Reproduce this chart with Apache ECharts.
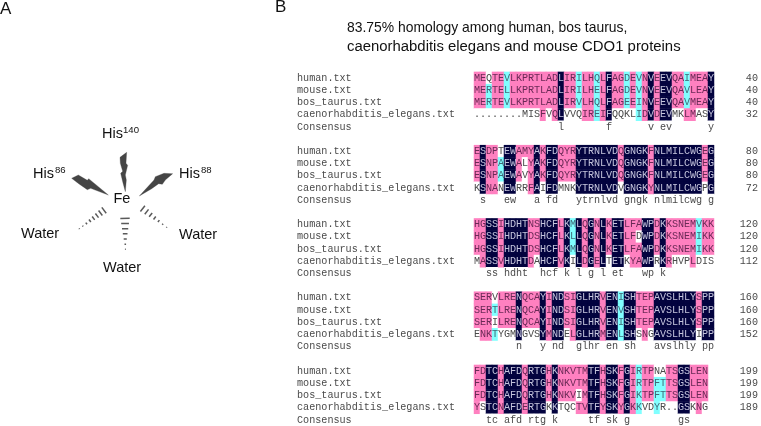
<!DOCTYPE html>
<html><head><meta charset="utf-8">
<style>html,body{margin:0;padding:0;background:#fff}#c{width:761px;height:426px}</style>
<script src="https://cdn.jsdelivr.net/npm/echarts@6/dist/echarts.min.js"></script>
</head><body><div id="c"></div>
<script>
const seqNames = ['human.txt','mouse.txt','bos_taurus.txt','caenorhabditis_elegans.txt','Consensus'];
const human = ['MEQTEVLKPRTLADLIRILHQLFAGDEVNVEEVQAIMEAY','ESDPTEWAMYAKFDQYRYTRNLVDQGNGKFNLMILCWGEG','HGSSIHDHTNSHCFLKMLQGNLKETLFAWPDKKSNEMVKK','SERVLRENQCAYINDSIGLHRVENISHTEPAVSLHLYSPP','FDTCHAFDQRTGHKNKVTMTFHSKFGIRTPNATSGSLEN'];
const mouse = ['MERTELLKPRTLADLIRILHELFAGDEVNVEEVQAVLEAY','ESNPAEWALYAKFDQYRYTRNLVDQGNGKFNLMILCWGEG','HGSSIHDHTDSHCFLKLLQGNLKETLFDWPDKKSNEMIKK','SERTLRENQCAYINDSIGLHRVENVSHTEPAVSLHLYSPP','FDTCHAFDQRTGHKNKVTMTFHSKFGIRTPFTTSGSLEN'];
const bos = ['MERTEVLKPRTLADLIRVLHQLFAGEEINVEEVQAVMEAY','ESNPAEWAVYAKFDQYRYTRNLVDQGNGKFNLMILCWGEG','HGSSIHDHTDSHCFLKMLQGNLKETLFAWPDKKSNEMIKK','SERILRENQCAYINDSIGLHRVENISHTEPAVSLHLYSPP','FDTCHAFDQRTGHKNKVIMTFHSKFGIKTPFTTSGSLEN'];
const elegans = ['........MISFVQLVVQIREIFQQKLIDVDEVMKLMASY','KSNANEWRRFAIFDMNKYTRNLVDVGNGKYNLMILCWGPG','MASSVHDHTDAHCFVKILDGELTETKYAWPRKRHVPLDIS','ENKTYGMNGVSYMNDELGLHRMENLSHSNGAVSLHLYIPP','YSTCNAFDERTGKKTQCTVTFYSKYGKKVDYR..GSKNG'];
const consensus = ['              l       f      v ev      y',' s   ew   a fd   ytrnlvd gngk nlmilcwg g','  ss hdht  hcf k l g l et   wp k','       n   y nd  glhr en sh   avslhly pp','  tc afd rtg k     tf sk g        gs'];
const humanEnds = [40,80,120,160,199];
const mouseEnds = [40,80,120,160,199];
const bosEnds = [40,80,120,160,199];
const elegansEnds = [32,72,112,152,189];
/* conservation class per residue: n identical, p high, c similar, w none */
const humanShade = ['ppwppcppppppppnppcppcpnppcpcpnpnnppcpppn','pnppwnnpppnpnnpppnnnnnnnpnnnnpnnnnnnnnpn','ppnnpnnnnppnnnpncnpnpnpnnpppnnpnpppppcpp','pppwpppnpppnpnnppnnnnpnncnnpppnnnnnnnpnn','ppnnpnnnpnnnpnpppppnnpnnpnpcppwwppnnppp'];
const mouseShade = ['ppcppcppppppppnppcppcpnppcpcpnpnnppcpppn','pnppcnnpwpnpnnpppnnnnnnnpnnnnpnnnnnnnnpn','ppnnpnnnnppnnnpncnpnpnpnnppwnnpnpppppcpp','pppcpppnpppnpnnppnnnnpnncnnpppnnnnnnnpnn','ppnnpnnnpnnnpnpppppnnpnnpnpcppccppnnppp'];
const bosShade = ['ppcppcppppppppnppcppcpnppcpcpnpnnppcpppn','pnppcnnpwpnpnnpppnnnnnnnpnnnnpnnnnnnnnpn','ppnnpnnnnppnnnpncnpnpnpnnpppnnpnpppppcpp','pppwpppnpppnpnnppnnnnpnncnnpppnnnnnnnpnn','ppnnpnnnpnnnpnpppwpnnpnnpnpcppccppnnppp'];
const elegansShade = ['wwwwwwwwwwwpwpnwwwppcpnwwwwcpnpnnwwppwwn','wnppwnnwwpnwnnwwwnnnnnnnwnnnnpnnnnnnnnwn','wpnnpnnnnpwnnnpnwnpnpnwnnwppnnwnpwwwpwww','wppcwwwnwwwnpnnwpnnnnpnncnnwpwnnnnnnnwnn','pwnnpnnnpnnnwnwwwppnnpnnpnpcwwcwwwnnwpw'];

const fillOf = {n:'#03033f', p:'#ff80c0', c:'#80ffff', w:'#ffffff'};
const inkOf = {n:'#c4c4dc', p:'#6b2a56', c:'#3f6a78', w:'#4a4a4a'};
const rowLabels = [], endLabels = [], cells = [];
humanEnds.forEach((_, b) => {
  const top = b * 6;
  const rows = [[human,humanShade,humanEnds],[mouse,mouseShade,mouseEnds],[bos,bosShade,bosEnds],[elegans,elegansShade,elegansEnds]];
  rows.forEach(([s,m,e], r) => {
    rowLabels.push(seqNames[r]); endLabels.push(String(e[b]));
    [...s[b]].forEach((ch, x) => cells.push({value:[x, top + r, 1], ch, itemStyle:{color:fillOf[m[b][x]]}, label:{color:inkOf[m[b][x]]}}));
  });
  rowLabels.push(seqNames[4]); endLabels.push('');
  [...consensus[b]].forEach((ch, x) => { if (ch !== ' ') cells.push({value:[x, top + 4, 0], ch, itemStyle:{color:'#fff'}, label:{color:inkOf.w}}); });
  if (b < 4) { rowLabels.push(''); endLabels.push(''); }
});

const ink = '#111';
const txt = (t,x,y,size,extra) => ({type:'text', silent:true, x, y, style:Object.assign({text:t, fill:ink, font:size+'px "Liberation Sans", Arial, sans-serif', verticalAlign:'bottom', align:'left'}, extra||{})});
const sc = pts => pts.map(p => [p[0]/3, p[1]/3]);
const bolt = pts => ({type:'polygon', silent:true, shape:{points:sc(pts)}, style:{fill:'#454545', stroke:'#454545', lineWidth:0.3}});
const hash = (ax,ay,bx,by,n,w0) => {
  const out = [], dx = bx-ax, dy = by-ay, L = Math.hypot(dx,dy), ux = -dy/L, uy = dx/L;
  for (let i=0;i<n;i++){ const t=i/(n-1), cx=(ax+dx*t)/3, cy=(ay+dy*t)/3, h=Math.max(0.4,(w0*(1-t))/3);
    out.push({type:'line', silent:true, shape:{x1:cx-ux*h,y1:cy-uy*h,x2:cx+ux*h,y2:cy+uy*h}, style:{stroke:'#5a5a5a', lineWidth:1.5}}); }
  return out;
};
const graphics = [
  txt('A',0,18,17), txt('B',275,16,17),
  txt('83.75% homology among human, bos taurus,',347,35,13.9),
  txt('caenorhabditis elegans and mouse CDO1 proteins',347,54,14.9),
  txt('His',102,141,14.5), txt('140',123,135,9.6),
  txt('His',33,181,14.5), txt('86',55,175,9.6),
  txt('His',179,181,14.5), txt('88',201,175,9.6),
  txt('Fe',113.5,206,14.5),
  txt('Water',21,241,14.5), txt('Water',179,242,14.5), txt('Water',103,275,14.5),
  bolt([[360,472],[380,457],[378,490],[383,496],[376,525],[379,540],[376,575],[368,545],[362,520],[368,514],[361,490]]),
  bolt([[215,535],[235,525],[262,541],[266,536],[295,560],[325,585],[272,565],[262,569],[236,551]]),
  bolt([[418,588],[462,540],[466,530],[492,520],[518,521],[496,540],[487,553],[476,551],[455,566]])
].concat(hash(375,655,376,748,7,14), hash(312,631,238,686,8,11), hash(428,626,500,682,7,11));

const chart = echarts.init(document.getElementById('c'), null, {renderer:'canvas'});
const mono = '"Liberation Mono", "DejaVu Sans Mono", monospace';
chart.setOption({
  animation:false, backgroundColor:'#fff',
  grid:{left:474, top:71.9, width:244.4, height:355},
  xAxis:{type:'category', data:Array.from({length:40},(_, i)=>String(i+1)), show:false},
  yAxis:[
    {type:'category', inverse:true, data:rowLabels, axisLine:{show:false}, axisTick:{show:false}, splitLine:{show:false},
     axisLabel:{interval:0, align:'left', margin:177, fontFamily:mono, fontSize:10.15, color:'#4a4a4a'}},
    {type:'category', inverse:true, position:'right', data:endLabels, axisLine:{show:false}, axisTick:{show:false}, splitLine:{show:false},
     axisLabel:{interval:0, align:'right', margin:44, fontFamily:mono, fontSize:10.15, color:'#4a4a4a'}}
  ],
  series:[{type:'heatmap', silent:true, progressive:0, data:cells, emphasis:{disabled:true},
    label:{show:true, fontFamily:mono, fontSize:10.15, formatter:p=>p.data.ch}}],
  graphic:graphics
});
</script></body></html>
